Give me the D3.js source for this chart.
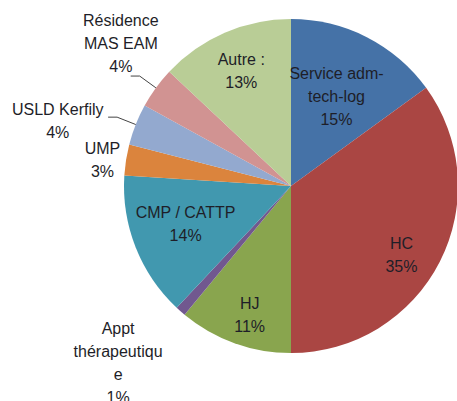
<!DOCTYPE html>
<html>
<head>
<meta charset="utf-8">
<script src="https://cdn.jsdelivr.net/npm/d3@7"></script>
<style>
  body { margin: 0; background: #fff; }
  svg { display: block; }
  .lbl { font-family: "Liberation Sans", Arial, sans-serif; font-size: 16px; fill: #1e1e28; }
</style>
</head>
<body>
<svg id="chart"></svg>
<script>
// slices, clockwise from 12 o'clock
const categories = ["Service adm-tech-log", "HC", "HJ", "Appt thérapeutique", "CMP / CATTP", "UMP", "USLD Kerfily", "Résidence MAS EAM", "Autre :"];
const values = [15, 35, 11, 1, 14, 3, 4, 4, 13];
// label lines as wrapped in the original
const labelLines = [
  ["Service adm-", "tech-log"],
  ["HC"],
  ["HJ"],
  ["Appt", "thérapeutiqu", "e"],
  ["CMP / CATTP"],
  ["UMP"],
  ["USLD Kerfily"],
  ["Résidence", "MAS EAM"],
  ["Autre :"]
];

const colors = ["#4572A7", "#AA4643", "#89A54E", "#71588F", "#4198AF", "#DB843D", "#93A9CF", "#D19392", "#B9CD96"];

const width = 457, height = 401;
const cx = 291, cy = 186, radius = 167;
const lineH = 23;

// label radius (fraction of r) and angle nudge (deg) per slice
const labelR = [0.6, 0.78, 0.81, 1.48, 0.67, 1.14, 1.45, 1.33, 0.75];
const labelNudge = [0, 5, -2, 3, 2, -1, -6, 4, 0];
const leader = [false, false, false, false, false, false, true, true, false];

const svg = d3.select("#chart").attr("width", width).attr("height", height);
const g = svg.append("g").attr("transform", `translate(${cx},${cy})`);

const pie = d3.pie().sort(null).value(d => d.v);
const arc = d3.arc().innerRadius(0).outerRadius(radius);
const data = categories.map((c, i) => ({ name: c, v: values[i], i }));
const arcs = pie(data);

g.selectAll("path.slice")
  .data(arcs)
  .join("path")
  .attr("class", "slice")
  .attr("d", arc)
  .attr("fill", d => colors[d.data.i]);

const polar = (a, r) => [r * Math.sin(a), -r * Math.cos(a)];

arcs.forEach(d => {
  const i = d.data.i;
  const mid = (d.startAngle + d.endAngle) / 2;
  const a = mid + labelNudge[i] * Math.PI / 180;
  const [lx, ly] = polar(a, radius * labelR[i]);
  const lines = labelLines[i].concat([values[i] + "%"]);
  const t = g.append("text").attr("class", "lbl").attr("text-anchor", "middle");
  const top = ly - (lines.length - 1) * lineH / 2;
  lines.forEach((s, k) => {
    t.append("tspan").attr("x", lx).attr("y", top + k * lineH).attr("dy", "0.35em").text(s);
  });

  if (leader[i]) {
    const p0 = polar(mid, radius);
    const p1 = polar(mid, radius * 1.12);
    const p2 = [p1[0] - 9, p1[1]];
    g.append("polyline")
      .attr("points", [p0, p1, p2].map(p => p.join(",")).join(" "))
      .attr("fill", "none")
      .attr("stroke", "#444")
      .attr("stroke-width", 1);
  }
});
</script>
</body>
</html>
